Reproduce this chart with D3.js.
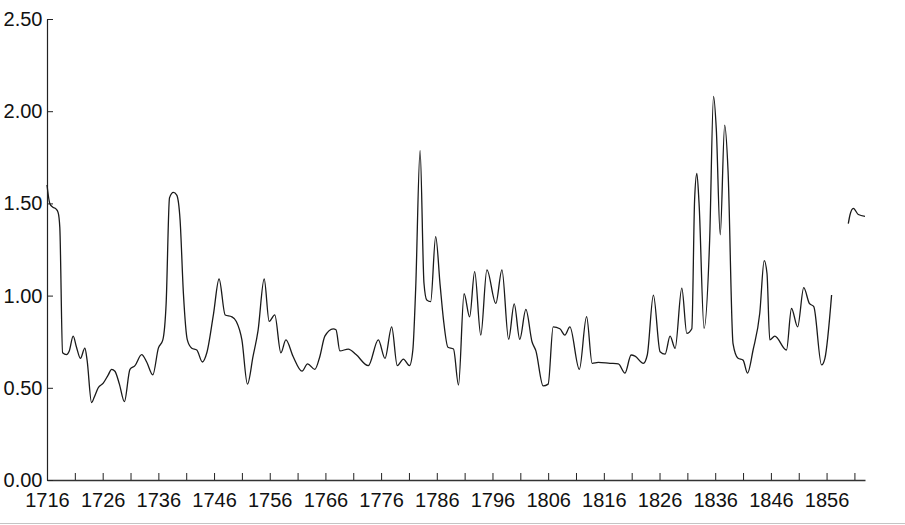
<!DOCTYPE html>
<html>
<head>
<meta charset="utf-8">
<script src="https://cdn.jsdelivr.net/npm/d3@7"></script>
<style>
  html, body { margin: 0; padding: 0; background: #fff; }
  svg { display: block; }
  .tick text { font-family: "Liberation Sans", Arial, Helvetica, sans-serif; font-size: 20px; fill: #111; }
</style>
</head>
<body>
<svg id="chart" width="905" height="525"></svg>
<script>
// ---- data ----
const years = [
  1716.0,1716.5,1717.0,1717.6,1718.0,1718.3,1718.8,1719.5,1720.0,1720.7,1721.3,1722.0,1722.8,1723.2,1724.0,1724.5,
  1725.2,1726.1,1727.0,1727.6,1728.2,1729.0,1729.9,1730.9,1731.8,1733.0,1733.9,1735.0,1736.0,1736.8,1737.4,1738.0,
  1738.7,1739.3,1739.9,1740.5,1741.2,1742.0,1742.9,1743.9,1744.7,1745.9,1746.9,1748.0,1749.2,1750.0,1751.0,1752.0,
  1753.0,1753.9,1755.0,1755.9,1756.9,1758.0,1758.9,1760.2,1761.8,1762.8,1764.1,1765.0,1765.9,1767.4,1767.9,1768.6,
  1770.1,1771.5,1773.7,1775.5,1776.7,1777.9,1778.9,1780.0,1781.1,1781.7,1782.2,1783.0,1783.7,1784.2,1784.9,1785.8,
  1786.6,1787.2,1788.0,1789.0,1789.9,1790.9,1791.9,1792.8,1793.9,1795.0,1796.6,1797.7,1798.9,1799.9,1800.9,1802.0,
  1803.1,1803.8,1805.1,1806.0,1806.9,1808.1,1809.0,1809.9,1811.6,1812.9,1813.9,1815.0,1817.1,1818.6,1819.8,1820.9,
  1821.6,1823.1,1823.8,1824.9,1826.1,1827.0,1827.9,1828.8,1830.0,1830.9,1831.8,1832.3,1832.7,1833.1,1834.0,1835.0,
  1835.7,1836.2,1836.9,1837.7,1838.3,1839.2,1840.1,1841.0,1841.8,1842.8,1844.0,1844.8,1845.3,1845.8,1846.7,1848.8,
  1849.7,1850.8,1851.9,1852.9,1853.7,1855.1,1855.7,1856.9,
  1858.0,
  1859.9,1860.2,1860.8,1861.7,1862.9
];
const values = [
  1.60,1.50,1.48,1.47,1.45,1.37,0.69,0.68,0.70,0.78,0.72,0.66,0.715,0.65,0.42,0.45,
  0.50,0.525,0.57,0.60,0.59,0.52,0.425,0.60,0.62,0.68,0.64,0.57,0.715,0.76,0.96,1.53,
  1.56,1.545,1.41,1.01,0.76,0.715,0.705,0.64,0.69,0.90,1.09,0.895,0.885,0.86,0.76,0.52,
  0.67,0.81,1.09,0.86,0.895,0.69,0.76,0.67,0.59,0.63,0.60,0.67,0.78,0.82,0.815,0.70,
  0.71,0.68,0.62,0.76,0.66,0.83,0.62,0.655,0.62,0.705,1.03,1.786,1.067,0.976,0.967,1.32,
  1.057,0.87,0.72,0.71,0.515,1.01,0.885,1.13,0.786,1.14,0.958,1.14,0.763,0.955,0.763,0.925,
  0.75,0.70,0.51,0.52,0.83,0.82,0.786,0.83,0.60,0.886,0.633,0.638,0.633,0.63,0.58,0.678,
  0.672,0.633,0.678,1.003,0.696,0.683,0.78,0.714,1.04,0.795,0.82,1.52,1.663,1.50,0.823,1.30,
  2.08,1.90,1.33,1.925,1.68,0.74,0.66,0.65,0.58,0.705,0.904,1.19,1.12,0.76,0.78,0.705,
  0.93,0.83,1.043,0.958,0.94,0.624,0.66,1.003,
  null,
  1.39,1.437,1.473,1.44,1.43
];
const xTickYears = [1716,1721,1726,1731,1736,1741,1746,1751,1756,1761,1766,1771,1776,1781,1786,1791,1796,1801,1806,1811,1816,1821,1826,1831,1836,1841,1846,1851,1856,1861];
const xTickLabels = [1716,1726,1736,1746,1756,1766,1776,1786,1796,1806,1816,1826,1836,1846,1856];
const yTickValues = [0, 0.5, 1.0, 1.5, 2.0, 2.5];

// ---- drawing ----
const svg = d3.select("#chart");
const x = d3.scaleLinear().domain([1716, 1862.9]).range([47, 865]);
const y = d3.scaleLinear().domain([0, 2.5]).range([480, 19]);

// light frame line at bottom
svg.append("line")
  .attr("x1", 0).attr("x2", 905).attr("y1", 523.5).attr("y2", 523.5)
  .attr("stroke", "#c4c4c4").attr("stroke-width", 1.2);

const xAxis = d3.axisBottom(x)
  .tickValues(xTickYears)
  .tickSizeInner(-7)
  .tickSizeOuter(0)
  .tickPadding(13)
  .tickFormat(d => xTickLabels.includes(d) ? String(d) : "");

const gx = svg.append("g").attr("transform", "translate(0,480)").call(xAxis);
gx.select(".domain").attr("stroke", "#333").attr("stroke-width", 1.6);
gx.selectAll(".tick line").attr("stroke", "#222").attr("stroke-width", 1);

const yAxis = d3.axisLeft(y)
  .tickValues(yTickValues)
  .tickSizeInner(-6)
  .tickSizeOuter(0)
  .tickPadding(4.5)
  .tickFormat(d3.format(".2f"));

const gy = svg.append("g").attr("transform", "translate(47,0)").call(yAxis);
gy.select(".domain").attr("stroke", "#222").attr("stroke-width", 1.2);
gy.selectAll(".tick line").attr("stroke", "#222").attr("stroke-width", 1);

const pts = years.map((yr, i) => ({ yr, v: values[i] }));
const line = d3.line()
  .defined(d => d.v != null)
  .x(d => x(d.yr))
  .y(d => y(d.v))
  .curve(d3.curveMonotoneX);

svg.append("path")
  .datum(pts)
  .attr("fill", "none")
  .attr("stroke", "#1a1a1a")
  .attr("stroke-width", 1.3)
  .attr("stroke-linejoin", "round")
  .attr("d", line);
</script>
</body>
</html>
